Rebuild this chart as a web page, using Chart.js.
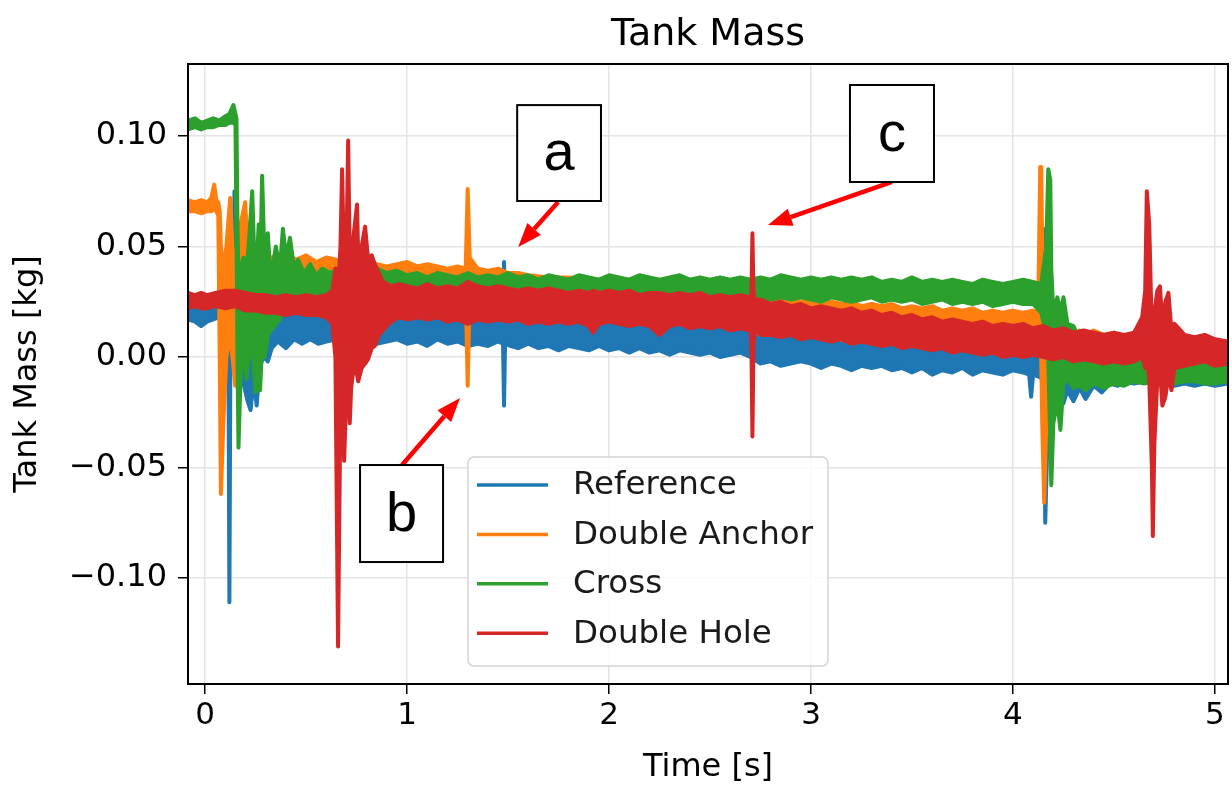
<!DOCTYPE html>
<html>
<head>
<meta charset="utf-8">
<title>Tank Mass</title>
<script src="https://cdn.jsdelivr.net/npm/chart.js@4.4.1/dist/chart.umd.min.js"></script>
<style>
  html, body { margin: 0; padding: 0; background: #ffffff; }
  #wrap { width: 1232px; height: 787px; }
</style>
</head>
<body>
<div id="wrap"><canvas id="chart" width="1232" height="787"></canvas></div>
<script>
// Tank mass per configuration: each noisy trace is stored as its upper and
// lower envelope (kg) over time (s).
const chartTitle = 'Tank Mass';
const seriesNames = ['Reference', 'Double Anchor', 'Cross', 'Double Hole'];
const seriesColors = ['#1f77b4', '#ff7f0e', '#2ca02c', '#d62728'];

const xTicks = [0, 1, 2, 3, 4, 5];
const yTicks = [-0.10, -0.05, 0.00, 0.05, 0.10];

// Reference
const refT = [-0.085,-0.05,-0.02,0.01,0.04,0.07,0.10,0.115,0.12,0.125,0.14,0.145,0.15,0.17,0.19,0.21,0.225,0.24,0.255,0.27,0.29,0.31,0.33,0.36,0.40,0.44,0.48,0.52,0.56,0.60,0.65,0.70,0.75,0.80,0.85,0.90,0.95,1.00,1.05,1.10,1.15,1.20,1.25,1.30,1.35,1.40,1.45,1.475,1.48,1.485,1.51,1.55,1.60,1.65,1.70,1.75,1.80,1.85,1.90,1.95,2.00,2.05,2.10,2.15,2.20,2.25,2.30,2.35,2.40,2.45,2.50,2.55,2.60,2.65,2.70,2.75,2.80,2.85,2.90,2.95,3.00,3.05,3.10,3.15,3.20,3.25,3.30,3.35,3.40,3.45,3.50,3.55,3.60,3.65,3.70,3.75,3.80,3.85,3.90,3.95,4.00,4.05,4.08,4.09,4.10,4.13,4.15,4.155,4.16,4.17,4.19,4.21,4.23,4.25,4.27,4.30,4.33,4.36,4.40,4.44,4.48,4.52,4.56,4.60,4.65,4.70,4.75,4.80,4.85,4.90,4.95,5.00,5.065];
const refHi = [0.024,0.023,0.022,0.024,0.023,0.025,0.024,0.022,0.020,0.022,0.030,0.075,0.030,0.020,0.018,0.020,0.019,0.018,0.017,0.018,0.017,0.018,0.019,0.018,0.019,0.018,0.019,0.020,0.018,0.019,0.018,0.017,0.018,0.019,0.018,0.017,0.018,0.019,0.017,0.018,0.019,0.017,0.018,0.016,0.018,0.017,0.018,0.017,0.043,0.017,0.018,0.017,0.018,0.016,0.017,0.016,0.017,0.016,0.015,0.016,0.015,0.016,0.014,0.015,0.014,0.015,0.013,0.014,0.013,0.014,0.012,0.013,0.012,0.012,0.011,0.008,0.009,0.008,0.009,0.007,0.008,0.007,0.008,0.006,0.007,0.006,0.007,0.005,0.006,0.004,0.005,0.004,0.003,0.005,0.003,0.004,0.002,0.003,0.002,0.003,0.002,0.003,0.002,0.001,0.002,0.001,0.058,0.010,0.004,0.002,0.000,-0.002,0.000,-0.004,-0.002,-0.003,-0.004,-0.003,-0.002,-0.003,-0.002,-0.001,-0.002,-0.001,-0.002,-0.003,-0.002,-0.004,-0.003,-0.004,-0.003,-0.005,-0.004];
const refLo = [0.017,0.016,0.014,0.016,0.017,0.018,0.016,0.010,-0.111,0.005,0.000,0.004,0.002,-0.008,-0.012,-0.020,-0.024,-0.010,-0.022,-0.004,0.000,-0.002,0.004,0.007,0.004,0.008,0.006,0.008,0.006,0.007,0.008,0.006,0.007,0.008,0.006,0.007,0.008,0.006,0.007,0.005,0.008,0.006,0.007,0.005,0.006,0.005,0.007,0.006,-0.022,0.006,0.005,0.004,0.006,0.004,0.005,0.003,0.005,0.004,0.003,0.005,0.003,0.004,0.002,0.004,0.002,0.003,0.001,0.003,0.002,0.001,0.002,0.000,0.001,0.002,0.000,-0.003,-0.002,-0.004,-0.003,-0.002,-0.003,-0.005,-0.003,-0.004,-0.006,-0.004,-0.005,-0.004,-0.006,-0.005,-0.007,-0.005,-0.008,-0.006,-0.007,-0.005,-0.008,-0.006,-0.007,-0.008,-0.006,-0.007,-0.008,-0.018,-0.008,-0.009,-0.010,-0.030,-0.075,-0.040,-0.015,-0.018,-0.012,-0.021,-0.015,-0.020,-0.014,-0.019,-0.013,-0.016,-0.012,-0.013,-0.011,-0.012,-0.011,-0.013,-0.012,-0.013,-0.012,-0.013,-0.012,-0.013,-0.012];

// Double Anchor
const anchorT = [-0.085,-0.05,-0.02,0.01,0.03,0.045,0.055,0.065,0.072,0.078,0.09,0.105,0.124,0.135,0.149,0.16,0.175,0.198,0.21,0.23,0.25,0.28,0.31,0.35,0.40,0.45,0.50,0.55,0.60,0.65,0.70,0.75,0.80,0.85,0.90,0.95,1.00,1.05,1.10,1.15,1.20,1.25,1.29,1.30,1.31,1.35,1.40,1.45,1.50,1.55,1.60,1.70,1.80,1.90,2.00,2.10,2.20,2.30,2.40,2.50,2.60,2.70,2.80,2.85,2.90,2.95,3.00,3.05,3.10,3.15,3.20,3.25,3.30,3.35,3.40,3.45,3.50,3.55,3.60,3.65,3.70,3.75,3.80,3.85,3.90,3.95,4.00,4.05,4.10,4.125,4.135,4.14,4.145,4.155,4.165,4.18,4.20,4.22,4.25,4.28,4.30,4.33,4.37,4.40,4.45,4.50,4.55,4.60,4.70,4.80,4.90,5.00,5.065];
const anchorHi = [0.071,0.070,0.071,0.070,0.072,0.078,0.071,0.070,0.066,0.050,0.040,0.050,0.072,0.050,0.040,0.045,0.060,0.070,0.050,0.045,0.048,0.046,0.044,0.046,0.047,0.044,0.046,0.043,0.045,0.044,0.042,0.043,0.041,0.042,0.041,0.042,0.043,0.041,0.042,0.041,0.040,0.041,0.040,0.076,0.045,0.040,0.039,0.040,0.038,0.038,0.037,0.036,0.036,0.035,0.034,0.034,0.033,0.032,0.031,0.030,0.029,0.028,0.027,0.026,0.027,0.025,0.026,0.024,0.025,0.024,0.025,0.023,0.024,0.023,0.024,0.022,0.023,0.022,0.023,0.021,0.022,0.021,0.022,0.020,0.021,0.020,0.021,0.020,0.021,0.020,0.086,0.086,0.050,0.020,0.015,0.020,0.015,0.012,0.015,0.010,0.008,0.012,0.010,0.012,0.010,0.011,0.009,0.010,0.009,0.008,0.007,0.006,0.007];
const anchorLo = [0.066,0.066,0.065,0.066,0.066,0.067,0.066,0.064,0.000,-0.062,-0.030,0.000,0.010,0.000,-0.013,0.000,0.015,0.025,0.028,0.030,0.032,0.033,0.034,0.035,0.036,0.034,0.035,0.034,0.035,0.033,0.032,0.033,0.032,0.033,0.032,0.033,0.034,0.033,0.034,0.032,0.033,0.032,0.031,-0.013,0.030,0.031,0.031,0.032,0.031,0.030,0.029,0.029,0.028,0.027,0.026,0.025,0.024,0.023,0.022,0.021,0.020,0.019,0.018,0.017,0.016,0.016,0.015,0.016,0.014,0.015,0.014,0.015,0.013,0.014,0.013,0.014,0.013,0.012,0.013,0.012,0.013,0.012,0.011,0.012,0.011,0.012,0.011,0.012,0.012,0.010,0.012,0.000,-0.030,-0.066,-0.030,0.000,0.002,-0.005,0.000,-0.008,-0.012,-0.003,-0.005,-0.002,-0.004,-0.002,-0.003,-0.002,-0.001,-0.002,-0.003,-0.004,-0.003];

// Cross
const crossT = [-0.085,-0.05,-0.02,0.01,0.04,0.07,0.10,0.12,0.14,0.15,0.155,0.16,0.165,0.175,0.19,0.205,0.215,0.233,0.245,0.25,0.265,0.272,0.282,0.295,0.31,0.325,0.35,0.37,0.385,0.40,0.42,0.44,0.46,0.49,0.52,0.55,0.58,0.62,0.66,0.70,0.75,0.80,0.85,0.90,0.95,1.00,1.05,1.10,1.15,1.20,1.25,1.30,1.35,1.40,1.45,1.50,1.55,1.60,1.65,1.70,1.75,1.80,1.85,1.90,1.95,2.00,2.05,2.10,2.15,2.20,2.25,2.30,2.35,2.40,2.45,2.50,2.55,2.60,2.65,2.70,2.75,2.80,2.85,2.90,2.95,3.00,3.05,3.10,3.15,3.20,3.25,3.30,3.35,3.40,3.45,3.50,3.55,3.60,3.65,3.70,3.75,3.80,3.85,3.90,3.95,4.00,4.05,4.10,4.14,4.165,4.175,4.185,4.19,4.20,4.22,4.235,4.25,4.27,4.30,4.33,4.36,4.40,4.45,4.50,4.55,4.60,4.65,4.70,4.75,4.80,4.85,4.90,4.95,5.00,5.065];
const crossHi = [0.107,0.108,0.106,0.107,0.108,0.107,0.109,0.110,0.114,0.110,0.108,0.060,0.035,0.040,0.045,0.040,0.050,0.075,0.040,0.030,0.060,0.035,0.082,0.040,0.056,0.035,0.050,0.040,0.058,0.045,0.054,0.040,0.044,0.038,0.042,0.037,0.040,0.038,0.040,0.037,0.039,0.037,0.040,0.038,0.039,0.037,0.038,0.036,0.038,0.037,0.036,0.038,0.036,0.037,0.036,0.038,0.036,0.037,0.035,0.037,0.036,0.035,0.037,0.036,0.035,0.037,0.036,0.035,0.037,0.036,0.035,0.036,0.037,0.035,0.036,0.035,0.036,0.035,0.036,0.035,0.036,0.035,0.037,0.036,0.035,0.036,0.035,0.036,0.035,0.036,0.035,0.036,0.034,0.035,0.034,0.036,0.034,0.035,0.034,0.035,0.034,0.033,0.035,0.034,0.033,0.034,0.035,0.034,0.033,0.050,0.085,0.080,0.040,0.020,0.027,0.020,0.027,0.015,0.014,0.008,0.006,0.005,0.004,0.005,0.003,0.004,0.003,0.003,0.002,0.002,0.001,0.001,0.000,0.000,0.001];
const crossLo = [0.103,0.104,0.103,0.104,0.104,0.105,0.105,0.106,0.106,0.105,0.060,0.000,-0.041,-0.010,0.005,-0.010,0.000,0.005,-0.010,-0.016,0.000,-0.015,0.005,0.000,0.010,0.012,0.015,0.017,0.020,0.020,0.022,0.024,0.024,0.025,0.026,0.025,0.026,0.027,0.026,0.027,0.026,0.027,0.028,0.027,0.028,0.027,0.028,0.027,0.028,0.027,0.026,0.027,0.026,0.027,0.026,0.027,0.026,0.027,0.026,0.027,0.026,0.027,0.026,0.027,0.026,0.027,0.026,0.027,0.026,0.027,0.026,0.027,0.026,0.027,0.026,0.026,0.027,0.026,0.025,0.026,0.027,0.026,0.027,0.026,0.027,0.026,0.025,0.027,0.026,0.025,0.026,0.027,0.025,0.026,0.025,0.026,0.024,0.025,0.026,0.024,0.025,0.024,0.025,0.023,0.024,0.025,0.024,0.024,0.020,0.010,0.000,-0.040,-0.058,-0.030,-0.020,-0.033,-0.012,-0.010,-0.014,-0.013,-0.015,-0.012,-0.014,-0.012,-0.013,-0.011,-0.012,-0.011,-0.012,-0.012,-0.011,-0.011,-0.012,-0.012,-0.011];

// Double Hole
const holeT = [-0.085,-0.05,-0.02,0.01,0.05,0.10,0.15,0.20,0.25,0.30,0.35,0.40,0.45,0.50,0.55,0.60,0.63,0.645,0.658,0.67,0.678,0.688,0.70,0.708,0.716,0.723,0.735,0.752,0.758,0.775,0.792,0.807,0.825,0.84,0.86,0.88,0.92,0.96,1.00,1.05,1.10,1.15,1.20,1.25,1.30,1.35,1.40,1.45,1.50,1.55,1.60,1.65,1.70,1.75,1.80,1.85,1.90,1.92,1.95,2.00,2.05,2.10,2.15,2.20,2.25,2.30,2.35,2.40,2.45,2.50,2.55,2.60,2.65,2.70,2.705,2.71,2.715,2.72,2.75,2.80,2.85,2.90,2.95,3.00,3.05,3.10,3.15,3.20,3.25,3.30,3.35,3.40,3.45,3.50,3.55,3.60,3.65,3.70,3.75,3.80,3.85,3.90,3.95,4.00,4.05,4.10,4.15,4.20,4.25,4.30,4.35,4.40,4.45,4.50,4.55,4.60,4.64,4.655,4.663,4.675,4.688,4.693,4.70,4.715,4.728,4.74,4.755,4.77,4.785,4.80,4.85,4.90,4.95,5.00,5.065];
const holeHi = [0.029,0.028,0.029,0.028,0.029,0.030,0.030,0.029,0.028,0.028,0.027,0.028,0.027,0.028,0.027,0.028,0.030,0.040,0.030,0.050,0.085,0.040,0.050,0.098,0.045,0.040,0.055,0.069,0.045,0.050,0.059,0.044,0.046,0.042,0.038,0.034,0.032,0.033,0.032,0.031,0.033,0.031,0.032,0.031,0.034,0.032,0.031,0.032,0.031,0.030,0.031,0.030,0.031,0.030,0.029,0.030,0.029,0.030,0.029,0.030,0.029,0.030,0.028,0.029,0.029,0.028,0.029,0.028,0.029,0.027,0.028,0.027,0.028,0.027,0.027,0.056,0.030,0.026,0.026,0.024,0.025,0.023,0.024,0.022,0.023,0.022,0.021,0.022,0.020,0.021,0.019,0.020,0.018,0.019,0.017,0.018,0.016,0.017,0.016,0.015,0.016,0.014,0.015,0.014,0.015,0.013,0.014,0.012,0.013,0.011,0.012,0.011,0.010,0.011,0.010,0.011,0.018,0.030,0.075,0.060,0.010,0.000,0.020,0.030,0.032,0.015,0.025,0.029,0.012,0.015,0.010,0.009,0.010,0.008,0.007];
const holeLo = [0.022,0.023,0.022,0.022,0.023,0.022,0.023,0.021,0.021,0.020,0.020,0.019,0.020,0.019,0.019,0.018,0.015,0.000,-0.131,-0.020,-0.010,-0.047,-0.015,-0.005,-0.030,-0.014,-0.005,-0.008,-0.011,-0.005,-0.003,-0.001,0.004,0.005,0.010,0.012,0.016,0.018,0.017,0.018,0.017,0.018,0.016,0.017,0.015,0.017,0.016,0.017,0.016,0.017,0.015,0.016,0.015,0.016,0.015,0.016,0.014,0.011,0.015,0.016,0.015,0.014,0.015,0.014,0.010,0.014,0.015,0.013,0.014,0.013,0.014,0.012,0.013,0.012,0.005,-0.036,0.005,0.012,0.010,0.010,0.009,0.010,0.008,0.009,0.008,0.007,0.008,0.006,0.007,0.006,0.005,0.006,0.004,0.005,0.004,0.003,0.004,0.002,0.003,0.002,0.001,0.002,0.000,0.001,0.000,0.001,0.000,-0.001,0.000,-0.002,-0.001,-0.002,-0.003,-0.002,-0.003,-0.002,0.000,-0.005,0.000,-0.010,-0.050,-0.081,-0.040,-0.010,-0.005,-0.022,-0.018,-0.008,-0.015,-0.005,-0.004,-0.003,-0.002,-0.004,-0.003];

const traces = [
  { t: refT, hi: refHi, lo: refLo },
  { t: anchorT, hi: anchorHi, lo: anchorLo },
  { t: crossT, hi: crossHi, lo: crossLo },
  { t: holeT, hi: holeHi, lo: holeLo }
];

// Lettered call-outs (data coordinates: box corners, arrow tail, arrow tip)
const callouts = [
  { letter: 'a', box: [1.545, 0.1140, 1.960, 0.0706], from: [1.748, 0.0701], to: [1.550, 0.0498] },
  { letter: 'b', box: [0.767, -0.0489, 1.178, -0.0928], from: [0.975, -0.0489], to: [1.262, -0.0186] },
  { letter: 'c', box: [3.193, 0.1231, 3.609, 0.0792], from: [3.401, 0.0792], to: [2.787, 0.0597] }
];

const FONT = 'DejaVu Sans';

// Each series becomes two line datasets (lower and upper envelope) with the
// area between them filled in the series colour. Later series sit on top.
const datasets = [];
traces.forEach((tr, k) => {
  const color = seriesColors[k];
  const order = traces.length - k;
  datasets.push({
    label: seriesNames[k] + ' (min)',
    data: tr.t.map((x, i) => ({ x: x, y: tr.lo[i] })),
    borderColor: color, borderWidth: 4, pointRadius: 0,
    borderJoinStyle: 'round',
    fill: false, order: order, tension: 0
  });
  datasets.push({
    label: seriesNames[k],
    data: tr.t.map((x, i) => ({ x: x, y: tr.hi[i] })),
    borderColor: color, borderWidth: 4, pointRadius: 0,
    borderJoinStyle: 'round',
    backgroundColor: color, fill: '-1', order: order, tension: 0
  });
});

const decorations = {
  id: 'decorations',
  afterDatasetsDraw(chart) {
    const a = chart.chartArea;
    const ctx = chart.ctx;
    ctx.save();
    ctx.strokeStyle = '#000';
    ctx.lineWidth = 2;
    ctx.strokeRect(a.left, a.top, a.right - a.left, a.bottom - a.top);
    ctx.restore();
  },
  afterDraw(chart) {
    const ctx = chart.ctx;
    const a = chart.chartArea;
    const xs = chart.scales.x, ys = chart.scales.y;

    // title, centred over the plotting area
    ctx.save();
    ctx.fillStyle = '#000';
    ctx.font = '38px "' + FONT + '"';
    ctx.textAlign = 'center';
    ctx.textBaseline = 'alphabetic';
    ctx.fillText(chartTitle, (a.left + a.right) / 2, a.top - 19);
    ctx.restore();

    // legend
    const lw = a.right - a.left, lh = a.bottom - a.top;
    const lx = a.left + 0.2692 * lw, ly = a.top + 0.6339 * lh;
    const bw = 360, bh = 209;
    ctx.save();
    ctx.beginPath();
    ctx.roundRect(lx, ly, bw, bh, 6);
    ctx.fillStyle = 'rgba(255,255,255,0.85)';
    ctx.fill();
    ctx.strokeStyle = '#d4d4d4';
    ctx.lineWidth = 1.5;
    ctx.stroke();
    ctx.font = '32.5px "' + FONT + '"';
    ctx.textBaseline = 'middle';
    ctx.textAlign = 'left';
    seriesNames.forEach((name, i) => {
      const ry = ly + 28 + 49.4 * i;
      ctx.beginPath();
      ctx.moveTo(lx + 9, ry);
      ctx.lineTo(lx + 80, ry);
      ctx.strokeStyle = seriesColors[i];
      ctx.lineWidth = 3.5;
      ctx.stroke();
      ctx.fillStyle = '#1a1a1a';
      ctx.fillText(name, lx + 105, ry + 1);
    });
    ctx.restore();

    // call-outs
    callouts.forEach(c => {
      const x0 = xs.getPixelForValue(c.box[0]), y0 = ys.getPixelForValue(c.box[1]);
      const x1 = xs.getPixelForValue(c.box[2]), y1 = ys.getPixelForValue(c.box[3]);
      const fx = xs.getPixelForValue(c.from[0]), fy = ys.getPixelForValue(c.from[1]);
      const tx = xs.getPixelForValue(c.to[0]), ty = ys.getPixelForValue(c.to[1]);
      ctx.save();
      const ang = Math.atan2(ty - fy, tx - fx);
      const head = 24, half = 9;
      const bx = tx - head * Math.cos(ang), by = ty - head * Math.sin(ang);
      ctx.strokeStyle = '#ff0000';
      ctx.fillStyle = '#ff0000';
      ctx.lineWidth = 4.5;
      ctx.beginPath();
      ctx.moveTo(fx, fy);
      ctx.lineTo(bx, by);
      ctx.stroke();
      ctx.beginPath();
      ctx.moveTo(tx, ty);
      ctx.lineTo(bx + half * Math.sin(ang), by - half * Math.cos(ang));
      ctx.lineTo(bx - half * Math.sin(ang), by + half * Math.cos(ang));
      ctx.closePath();
      ctx.fill();
      ctx.fillStyle = '#ffffff';
      ctx.fillRect(x0, y0, x1 - x0, y1 - y0);
      ctx.strokeStyle = '#000';
      ctx.lineWidth = 2;
      ctx.strokeRect(x0, y0, x1 - x0, y1 - y0);
      ctx.fillStyle = '#000';
      ctx.font = '56px "Liberation Sans"';
      ctx.textAlign = 'center';
      ctx.textBaseline = 'middle';
      ctx.fillText(c.letter, (x0 + x1) / 2, (y0 + y1) / 2 + 2);
      ctx.restore();
    });
  }
};

new Chart(document.getElementById('chart'), {
  type: 'line',
  data: { datasets: datasets },
  options: {
    responsive: false,
    animation: false,
    devicePixelRatio: 1,
    events: [],
    layout: { padding: { left: 0, right: 4, top: 64, bottom: 0 } },
    plugins: {
      legend: { display: false },
      tooltip: { enabled: false },
      title: { display: false }
    },
    scales: {
      x: {
        type: 'linear',
        min: -0.085,
        max: 5.065,
        afterFit(scale) { scale.height = 103; },
        afterBuildTicks(scale) { scale.ticks = xTicks.map(v => ({ value: v })); },
        ticks: {
          color: '#000',
          font: { family: FONT, size: 31 },
          padding: 3,
          maxRotation: 0,
          callback: v => String(v)
        },
        grid: { color: '#e4e4e4', lineWidth: 1.5, tickColor: '#000', tickLength: 10, tickWidth: 1.5 },
        border: { display: false },
        title: {
          display: true,
          text: 'Time [s]',
          color: '#000',
          font: { family: FONT, size: 32 },
          padding: { top: 0, bottom: 0 }
        }
      },
      y: {
        type: 'linear',
        min: -0.148,
        max: 0.1326,
        afterFit(scale) { scale.width = 188; },
        afterBuildTicks(scale) { scale.ticks = yTicks.map(v => ({ value: v })); },
        ticks: {
          color: '#000',
          font: { family: FONT, size: 32 },
          padding: 11,
          callback: v => v.toFixed(2).replace('-', '\u2212')
        },
        grid: { color: '#e4e4e4', lineWidth: 1.5, tickColor: '#000', tickLength: 10, tickWidth: 1.5 },
        border: { display: false },
        title: {
          display: true,
          text: 'Tank Mass [kg]',
          color: '#000',
          font: { family: FONT, size: 32 },
          padding: { top: 8, bottom: 0 }
        }
      }
    }
  },
  plugins: [decorations]
});
</script>
</body>
</html>
